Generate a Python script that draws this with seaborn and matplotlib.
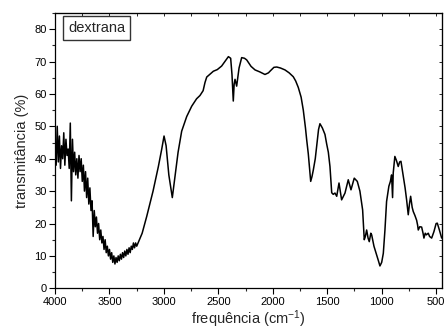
import numpy as np
import pandas as pd
import seaborn as sns
import matplotlib.pyplot as plt
from matplotlib.ticker import MultipleLocator

# FTIR spectrum of dextran
wavenumber = [
    4000, 3990, 3980, 3970, 3960, 3950, 3940, 3930, 3920, 3910, 3900, 3890, 3880, 3870,
    3860, 3850, 3840, 3830, 3820, 3810, 3800, 3790, 3780, 3770, 3760, 3750, 3740, 3730,
    3720, 3710, 3700, 3690, 3680, 3670, 3660, 3650, 3640, 3630, 3620, 3610, 3600, 3590,
    3580, 3570, 3560, 3550, 3540, 3530, 3520, 3510, 3500, 3490, 3480, 3470, 3460, 3450,
    3440, 3430, 3420, 3410, 3400, 3390, 3380, 3370, 3360, 3350, 3340, 3330, 3320, 3310,
    3300, 3290, 3280, 3270, 3260, 3250, 3200, 3158, 3100, 3051, 3020, 2999, 2980, 2955,
    2923, 2900, 2870, 2837, 2791, 2745, 2700, 2669, 2640, 2623, 2607, 2580, 2546, 2510,
    2470, 2440, 2408, 2387, 2375, 2363, 2355, 2347, 2332, 2310, 2286, 2260, 2240, 2200,
    2163, 2120, 2072, 2040, 2026, 1990, 1964, 1930, 1888, 1850, 1812, 1790, 1766, 1740,
    1720, 1700, 1689, 1674, 1660, 1652, 1640, 1628, 1610, 1597, 1580, 1567, 1545, 1521,
    1505, 1490, 1475, 1459, 1445, 1429, 1413, 1392, 1380, 1368, 1350, 1337, 1307, 1282,
    1252, 1224, 1200, 1175, 1160, 1150, 1138, 1125, 1114, 1100, 1092, 1071, 1046, 1030,
    1016, 1000, 985, 970, 955, 934, 920, 909, 900, 894, 879, 865, 848, 835,
    823, 802, 785, 771, 756, 745, 734, 720, 710, 695, 679, 670, 664, 650,
    633, 620, 612, 600, 590, 572, 560, 541, 520, 500, 489, 470, 449,
]
transmitancia = [
    45, 38, 50, 39, 47, 37, 44, 40, 48, 38, 46, 41, 43, 37,
    51, 27, 46, 36, 42, 35, 40, 34, 41, 36, 40, 33, 38, 30,
    36, 28, 34, 26, 31, 24, 27, 16, 24, 19, 22, 17, 20, 15,
    18, 14, 16, 12, 15, 11, 13, 10, 12, 9, 11, 8, 10, 7.5,
    9.5, 8, 10, 8.5, 10.5, 9, 11, 9.5, 11.5, 10, 12, 10.5, 12.5, 11,
    13, 12, 14, 12.5, 14, 13, 17, 22.2, 30, 37.6, 43, 47, 44, 35,
    28, 34, 42, 48.5, 53, 56.2, 58.5, 59.5, 61, 63.5, 65.2, 66, 67, 67.5,
    68.6, 70, 71.5, 71, 66, 57.8, 63, 64.5, 62.4, 68, 71.2, 71, 70.5, 68.5,
    67.4, 66.8, 66, 66.5, 67, 68.2, 68.3, 68, 67.4, 66.5, 65.3, 64, 62, 59,
    55, 49.5, 45.9, 41.5, 36, 33, 34.5, 36.5, 40, 44, 49, 50.8, 49.5, 47.5,
    44.5, 42, 37.6, 29.5, 29, 29.4, 28.4, 32.5, 30, 27.3, 28.5, 29.4, 33.5, 30.4,
    34, 33, 30, 24.2, 15, 16, 18, 15.5, 14.4, 17, 16.5, 13, 10.3, 8.5,
    6.9, 8, 10.8, 18, 26.8, 31.5, 33, 35, 28, 35.6, 40.7, 39.5, 37.6, 39,
    39.2, 34.6, 31, 27.3, 22.7, 26, 28.4, 25, 23.7, 22.5, 21, 19.5, 18, 19,
    18.9, 17, 15.5, 17, 16.5, 17, 16, 15.5, 17.5, 20, 20.1, 18, 15.5,
]

df = pd.DataFrame({"freq": wavenumber, "T": transmitancia})

sns.set_style("ticks")
plt.rcParams['font.family'] = ['Liberation Sans', 'DejaVu Sans']
plt.rcParams['mathtext.fontset'] = 'custom'
plt.rcParams['mathtext.rm'] = 'Liberation Sans'
plt.rcParams['mathtext.it'] = 'Liberation Sans'

fig = plt.figure(figsize=(4.44, 3.31), dpi=100)
ax = fig.add_axes([0.124, 0.129, 0.871, 0.832])

sns.lineplot(data=df, x="freq", y="T", sort=False, estimator=None,
             color="black", linewidth=1.1, ax=ax)

ax.set_xlim(4000, 448)
ax.set_ylim(0, 85)
ax.xaxis.set_major_locator(MultipleLocator(500))
ax.xaxis.set_minor_locator(MultipleLocator(250))
ax.yaxis.set_major_locator(MultipleLocator(10))
ax.yaxis.set_minor_locator(MultipleLocator(5))
ax.tick_params(which="major", direction="out", length=4, width=0.8,
               labelsize=8, colors="black", pad=2)
ax.tick_params(which="minor", direction="out", length=2.5, width=0.8)

for s in ax.spines.values():
    s.set_visible(True)
    s.set_linewidth(0.9)
    s.set_color("black")

# top and right ticks point inwards
top = ax.secondary_xaxis("top")
top.xaxis.set_major_locator(MultipleLocator(500))
top.xaxis.set_minor_locator(MultipleLocator(250))
top.tick_params(which="both", direction="in", length=2.5, width=0.7, labeltop=False)
right = ax.secondary_yaxis("right")
right.yaxis.set_major_locator(MultipleLocator(10))
right.yaxis.set_minor_locator(MultipleLocator(5))
right.tick_params(which="both", direction="in", length=2.5, width=0.7, labelright=False)

ax.set_xlabel("frequência (cm$^{\\mathrm{-1}}$)", fontsize=10.5, labelpad=1)
ax.set_ylabel("transmitância (%)", fontsize=10.5, labelpad=4)

ax.text(0.108, 0.945, "dextrana", transform=ax.transAxes, fontsize=10.5,
        ha="center", va="center",
        bbox=dict(boxstyle="square,pad=0.35", facecolor="white",
                  edgecolor="#333333", linewidth=1))

fig.savefig("out.png", dpi=100)
